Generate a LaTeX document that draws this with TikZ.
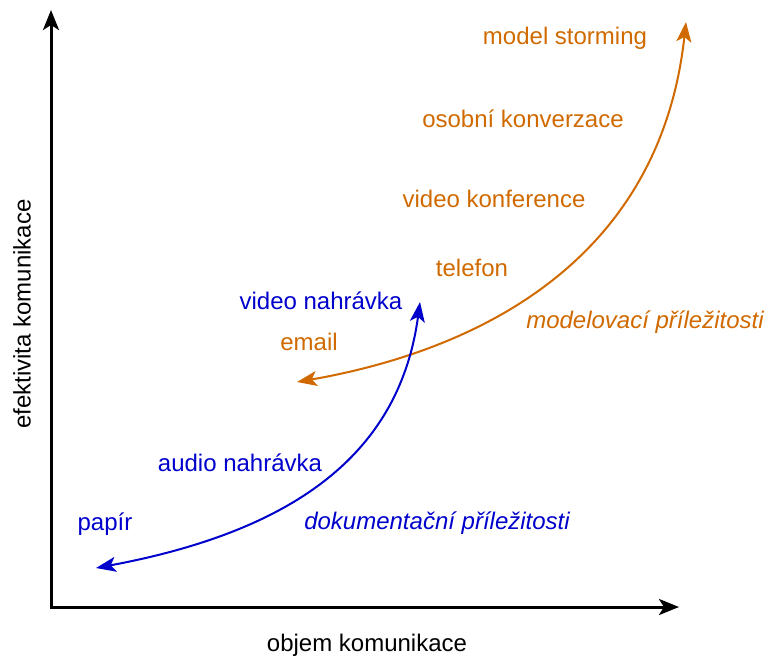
\documentclass[tikz,border=0pt]{standalone}
\usepackage{fontspec}
\setmainfont{Liberation Sans}
\usetikzlibrary{arrows.meta}
\definecolor{modelorange}{RGB}{208,106,0}
\definecolor{docblue}{RGB}{0,0,204}
\begin{document}
\begin{tikzpicture}[x=1pt,y=-1pt,
  lbl/.style={font=\fontsize{24}{28}\selectfont, inner sep=0pt, anchor=center},
  orange/.style={lbl, text=modelorange},
  blue/.style={lbl, text=docblue},
  axis/.style={line width=3pt, -{Stealth[length=20pt,width=16pt,inset=5pt]}},
  curve/.style={line width=2pt, {Stealth[length=20pt,width=15pt,inset=5pt]}-{Stealth[length=20pt,width=15pt,inset=5pt]}}]
\useasboundingbox (0,0) rectangle (767,657);

% axes
\coordinate (origin) at (51,607);
\coordinate (ytop) at (51,10);
\coordinate (xend) at (679,607);
\draw[axis] (origin) -- (ytop);
\draw[axis] ([xshift=-1.5pt]origin) -- (xend);

\node[lbl] (xlabel) at (367,645) {objem komunikace};
\node[lbl, rotate=90] (ylabel) at (22,314) {efektivita komunikace};

% modelling curve
\coordinate (mstart) at (297,382);
\coordinate (mend) at (686,22);
\draw[curve, modelorange] (mstart) .. controls (480,350) and (660,260) .. (mend);

\node[orange] (storming) at (565,38) {model storming};
\node[orange] (osobni) at (523,119) {osobní konverzace};
\node[orange] (videokonf) at (494,199) {video konference};
\node[orange] (telefon) at (472,268) {telefon};
\node[orange] (email) at (309,342) {email};
\node[orange, font=\fontsize{24}{28}\selectfont\itshape] (modelprl) at (645,322) {modelovací příležitosti};

% documentation curve
\coordinate (dstart) at (96,568);
\coordinate (dend) at (420,302);
\draw[curve, docblue] (dstart) .. controls (300,530) and (400,450) .. (dend);

\node[blue] (videonahr) at (321,301) {video nahrávka};
\node[blue] (audionahr) at (240,463) {audio nahrávka};
\node[blue] (papir) at (105,524) {papír};
\node[blue, font=\fontsize{24}{28}\selectfont\itshape] (docprl) at (437,523) {dokumentační příležitosti};
\end{tikzpicture}
\end{document}
